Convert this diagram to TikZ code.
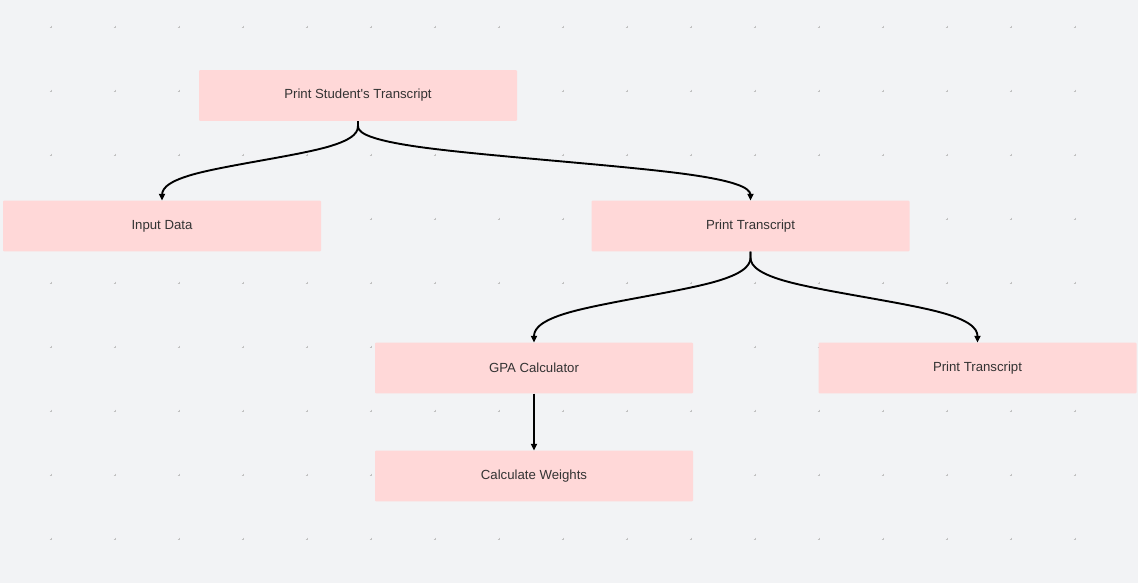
\documentclass[tikz,border=0pt]{standalone}
\usepackage{fontspec}
\setmainfont{Liberation Sans}
\usetikzlibrary{calc,arrows.meta}
\definecolor{bgc}{HTML}{F2F3F5}
\definecolor{boxc}{HTML}{FFD8D8}
\definecolor{txtc}{HTML}{333333}
\definecolor{gridc}{HTML}{C2C2C2}
\newcommand\bedge[2]{%
  \coordinate (P0) at (#1.south);
  \coordinate (P3) at (#2.north);
  \coordinate (P1) at ($(P0)!1/3!(P0|-P3)$);
  \coordinate (P2) at ($(P3)!1/3!(P3|-P0)$);
  \draw[edge] (P0) -- ($(P0)!1/6!(P1)$)
    .. controls ($(P0)!1/3!(P1)$) and ($(P0)!2/3!(P1)$) .. ($0.166667*(P0)+0.666667*(P1)+0.166667*(P2)$)
    .. controls ($(P1)!1/3!(P2)$) and ($(P1)!2/3!(P2)$) .. ($0.166667*(P1)+0.666667*(P2)+0.166667*(P3)$)
    .. controls ($(P2)!1/3!(P3)$) and ($(P2)!2/3!(P3)$) .. ($(P2)!5/6!(P3)$) -- (P3);
}
\tikzset{
  task/.style={rectangle, fill=boxc, rounded corners=1pt, minimum width=318pt, minimum height=50.7pt,
    inner sep=0pt, text=txtc, font=\fontsize{13.2}{16}\selectfont},
  edge/.style={draw=black, line width=1.9pt, -{Triangle[length=6.5pt,width=6pt]}},
  gridmark/.style={draw=gridc, line width=0.45pt}
}
\begin{document}
\begin{tikzpicture}[x=1pt,y=-1pt]
\fill[bgc] (0,0) rectangle (1138,583);
\useasboundingbox (0,0) rectangle (1138,583);
\foreach \x in {51,115,...,1075} {
  \foreach \y in {27,91,...,539} {
    \draw[gridmark] (\x-1.4,\y) -- (\x+1.4,\y) (\x,\y-1.4) -- (\x,\y+1.4);
  }
}
\node[task] (top) at (358,95.5) {Print Student\textquotesingle s Transcript};
\node[task] (input) at (162,226) {Input Data};
\node[task] (pt) at (750.5,226) {Print Transcript};
\node[task] (gpa) at (534,368) {GPA Calculator};
\node[task] (pt2) at (977.5,368) {Print Transcript};
\node[task] (cw) at (534,476) {Calculate Weights};
\bedge{top}{input}
\bedge{top}{pt}
\bedge{pt}{gpa}
\bedge{pt}{pt2}
\draw[edge] (gpa.south) -- (cw.north);
\end{tikzpicture}
\end{document}
